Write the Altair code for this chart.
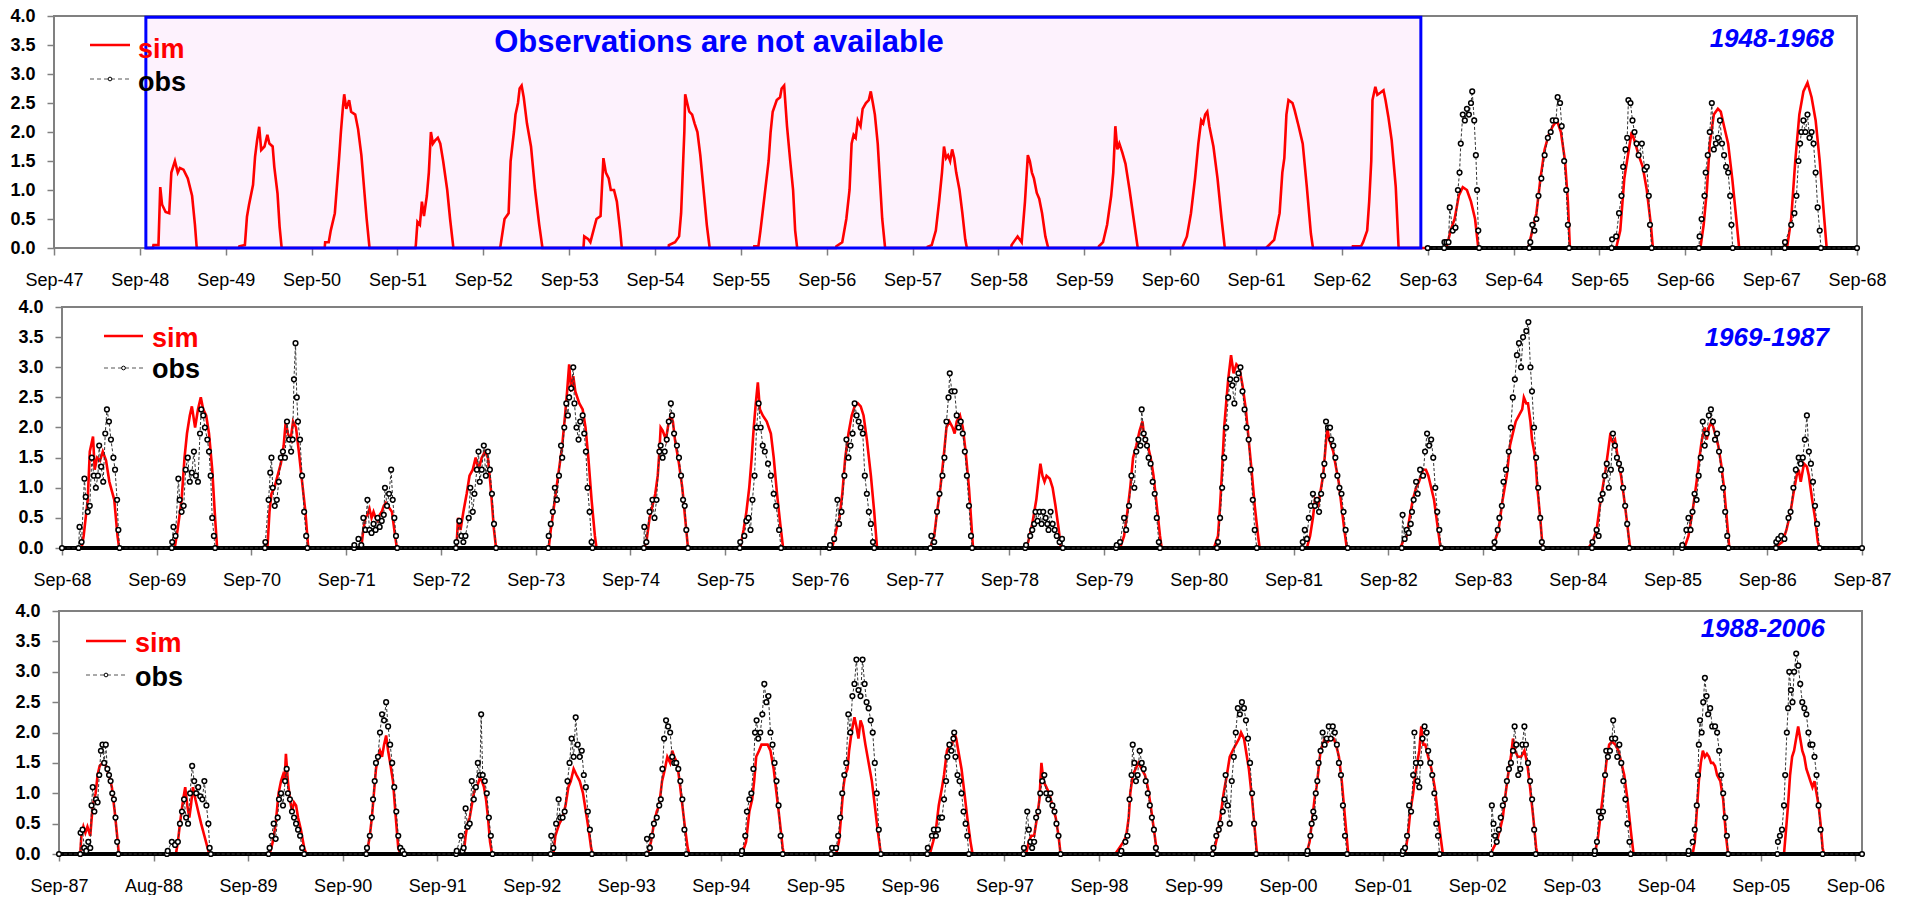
import altair as alt
import pandas as pd

FONT = "Liberation Sans"
RED = "#FF0000"
BLUE = "#0000FF"
GREY = "#808080"

LABELS_1 = ["Sep-47", "Sep-48", "Sep-49", "Sep-50", "Sep-51", "Sep-52", "Sep-53", "Sep-54",
            "Sep-55", "Sep-56", "Sep-57", "Sep-58", "Sep-59", "Sep-60", "Sep-61", "Sep-62",
            "Sep-63", "Sep-64", "Sep-65", "Sep-66", "Sep-67", "Sep-68"]
LABELS_2 = ["Sep-68", "Sep-69", "Sep-70", "Sep-71", "Sep-72", "Sep-73", "Sep-74", "Sep-75",
            "Sep-76", "Sep-77", "Sep-78", "Sep-79", "Sep-80", "Sep-81", "Sep-82", "Sep-83",
            "Sep-84", "Sep-85", "Sep-86", "Sep-87"]
LABELS_3 = ["Sep-87", "Aug-88", "Sep-89", "Sep-90", "Sep-91", "Sep-92", "Sep-93", "Sep-94",
            "Sep-95", "Sep-96", "Sep-97", "Sep-98", "Sep-99", "Sep-00", "Sep-01", "Sep-02",
            "Sep-03", "Sep-04", "Sep-05", "Sep-06"]

# season values: "month-after-September:value" pairs
SIM_1 = {
    1948: "1.8:0 1.9:.05 2.6:.05 2.85:1.05 3.1:.75 3.6:.62 4.1:.6 4.4:1.3 4.9:1.5 5.3:1.3 5.6:1.38 6.1:1.35 6.7:1.2 7.3:.9 7.7:.4 7.95:0",
    1949: "1.83:0 1.9:.03 2.68:.05 2.97:.54 3.25:.74 3.82:1.09 4.1:1.57 4.39:1.86 4.68:2.09 4.96:1.69 5.42:1.75 5.82:1.95 6.1:1.8 6.56:1.75 6.79:1.4 7.24:.94 7.53:.37 7.82:0",
    1950: "1.83:0 1.9:.1 2.4:.1 2.68:.3 3.25:.6 3.82:1.5 4.1:2.0 4.39:2.44 4.56:2.65 4.85:2.4 5.25:2.55 5.53:2.35 6.1:2.3 6.5:2.05 6.96:1.6 7.36:1.0 7.7:.5 8.1:0",
    1951: "2.5:0 2.57:.05 2.8:.45 3.14:.4 3.42:.8 3.71:.55 4.11:.9 4.39:1.3 4.68:2.0 4.96:1.8 5.25:1.85 5.65:1.9 5.99:1.8 6.39:1.5 6.96:1.0 7.36:.5 7.82:0",
    1952: "2.3:0 2.4:.03 2.97:.5 3.54:.6 3.82:1.5 4.28:2.0 4.5:2.3 4.85:2.5 5.08:2.75 5.36:2.8 5.65:2.6 6.1:2.15 6.67:1.75 7.24:1.0 7.82:.4 8.27:0",
    1953: "2.0:0 2.11:.2 2.68:.15 2.97:.1 3.82:.5 4.39:.55 4.79:1.55 5.13:1.3 5.53:1.2 5.82:1.0 6.27:1.0 6.67:.8 7.13:.3 7.36:0",
    1954: "1.9:0 1.94:.05 2.8:.1 3.37:.2 3.65:.6 3.94:1.5 4.1:2.0 4.22:2.65 4.5:2.5 4.79:2.35 5.19:2.3 5.53:2.15 5.93:2.0 6.33:1.6 6.79:1.0 7.24:.4 7.64:0",
    1955: "1.85:0 1.88:.03 2.45:.03 2.74:.3 3.31:.9 3.88:1.5 4.16:2.0 4.45:2.35 5.02:2.55 5.48:2.6 5.7:2.75 6.05:2.8 6.45:2.1 6.9:1.5 7.3:1.0 7.59:.3 7.87:0",
    1956: "1.3:0 1.35:.03 2.17:.1 2.74:.5 3.19:1.0 3.48:1.8 3.76:1.95 4.05:1.9 4.34:2.2 4.73:2.1 5.02:2.4 5.48:2.5 5.88:2.55 6.16:2.7 6.45:2.5 6.73:2.3 7.13:1.8 7.42:1.2 7.76:.5 8.16:0",
    1957: "2.05:0 2.11:.02 2.68:.05 3.25:.3 3.71:.8 4.11:1.3 4.39:1.75 4.68:1.55 4.96:1.6 5.25:1.5 5.53:1.7 5.82:1.55 6.1:1.3 6.56:1.0 6.96:.6 7.36:.15 7.59:0",
    1958: "1.8:0 1.83:.05 2.68:.2 3.25:.1 3.71:.8 4.11:1.6 4.39:1.5 4.68:1.3 4.96:1.2 5.36:.95 5.7:.85 6.1:.6 6.56:.2 6.96:0",
    1959: "2.0:0 2.05:.03 2.62:.1 3.19:.4 3.76:.9 4.05:1.3 4.34:2.1 4.62:1.7 4.9:1.8 5.31:1.65 5.76:1.45 6.33:1.0 6.9:.5 7.47:0",
    1960: "1.72:0 1.77:.03 2.34:.2 2.91:.6 3.48:1.2 3.94:1.8 4.34:2.2 4.62:2.15 4.9:2.3 5.19:2.35 5.48:2.1 6.05:1.75 6.62:1.2 7.19:.5 7.64:0",
    1961: "1.4:0 2.54:.14 3.3:.6 3.68:1.3 3.96:1.55 4.25:2.3 4.54:2.55 5.1:2.5 5.39:2.38 5.96:2.1 6.53:1.8 7.1:1.06 7.67:.25 7.96:0",
    1962: "1.5:0 1.54:.03 2.68:.03 2.97:.1 3.54:.3 3.82:.8 4.11:1.5 4.28:2.55 4.68:2.78 4.96:2.64 5.42:2.68 5.82:2.72 6.1:2.55 6.5:2.26 6.96:1.86 7.53:1.06 7.93:0",
    1963: "2.62:0 3.19:.3 3.76:.5 4.34:.9 4.9:1.05 5.48:1.0 6.05:.8 6.62:.5 7.07:0",
    1964: "2.05:0 2.62:.3 3.19:.6 3.76:1.2 4.34:1.7 4.9:1.95 5.48:2.1 6.05:2.2 6.62:2.0 7.19:1.5 7.59:.8 7.87:0",
    1965: "2.34:0 2.91:.3 3.48:1.2 4.05:1.65 4.51:2.0 4.9:1.85 5.48:1.6 6.05:1.4 6.62:1.0 7.19:.4 7.47:0",
    1966: "2.11:0 2.57:.4 3.02:1.0 3.42:1.8 3.99:2.3 4.56:2.4 4.96:2.35 5.42:2.1 5.99:1.8 6.56:1.2 7.13:.5 7.53:0",
    1967: "2.22:0 2.8:.5 3.37:1.5 3.94:2.3 4.51:2.7 5.08:2.85 5.65:2.6 6.22:2.2 6.79:1.5 7.36:.6 7.76:0",
}
OBS_1 = {
    1963: "2.3:0 2.34:.1 2.62:.1 2.91:.1 3.08:.7 3.5:.3 3.88:.35 4.22:1.0 4.45:1.3 4.62:1.8 4.9:2.3 5.19:2.2 5.48:2.4 5.76:2.3 6.05:2.5 6.22:2.7 6.5:2.2 6.73:1.6 6.9:1.0 7.07:.3 7.19:0",
    1964: "2.2:0 2.34:.1 2.62:.4 2.91:.3 3.19:.5 3.48:.9 3.88:1.2 4.34:1.6 4.79:1.9 5.19:2.0 5.48:2.2 5.93:2.2 6.16:2.6 6.5:2.5 6.73:2.1 7.07:1.5 7.36:1.0 7.59:.4 7.76:0",
    1965: "1.7:0 1.77:.15 2.34:.2 2.74:.6 3.08:.9 3.31:1.4 3.65:1.7 3.88:1.9 4.05:2.55 4.34:2.5 4.62:2.2 4.9:2.0 5.19:1.8 5.48:1.6 5.93:1.8 6.33:1.35 6.62:1.4 6.9:.9 7.07:.4 7.3:0",
    1966: "1.9:0 2.0:.2 2.28:.5 2.68:.9 2.85:1.3 3.14:1.6 3.42:2.0 3.71:2.5 3.99:1.7 4.28:1.8 4.56:1.9 4.85:2.2 5.13:1.8 5.42:1.6 5.7:1.4 5.99:1.3 6.27:.9 6.45:.4 6.62:0",
    1967: "1.9:0 1.94:.1 2.8:.4 3.25:.6 3.54:.9 3.82:1.5 4.05:1.8 4.22:2.0 4.51:2.2 4.79:2.0 5.08:2.3 5.36:1.9 5.65:2.0 5.93:1.8 6.22:1.3 6.5:.7 6.79:.3 6.96:0",
}
SIM_2 = {
    1968: "2.48:0 2.74:.2 3.0:.5 3.26:.8 3.52:1.6 3.93:1.85 4.14:1.3 4.45:1.5 4.81:1.45 5.17:1.6 5.58:1.45 6.0:1.1 6.62:.8 7.03:.2 7.24:0",
    1969: "2.28:0 2.64:.3 3.15:.8 3.52:1.5 3.83:1.9 4.19:2.2 4.45:2.35 4.86:2.0 5.22:2.3 5.58:2.5 5.89:2.3 6.26:2.2 6.62:1.9 7.03:1.3 7.39:.5 7.65:0",
    1970: "2.02:0 2.28:.6 2.53:.9 2.9:1.0 3.31:1.2 3.72:1.4 4.08:1.7 4.34:2.1 4.6:1.9 4.96:1.8 5.27:2.1 5.64:2.0 6.0:1.6 6.41:1.1 6.83:.6 7.19:0",
    1971: "1.9:0 2.17:.3 2.43:.5 2.69:.55 2.95:.65 3.21:.5 3.46:.6 3.72:.5 3.98:.45 4.24:.55 4.5:.6 4.76:.7 5.02:.75 5.27:.7 5.79:.6 6.2:.2 6.41:0",
    1972: "1.96:0 2.17:.5 2.48:.3 2.84:.6 3.26:.9 3.62:1.2 4.03:1.3 4.4:1.5 4.76:1.3 5.17:1.5 5.58:1.6 5.95:1.5 6.31:1.0 6.72:.3 6.98:0",
    1973: "1.65:0 1.91:.3 2.43:.8 2.95:1.3 3.36:1.7 3.72:2.2 3.98:2.6 4.24:3.05 4.5:2.6 4.76:2.85 5.02:2.6 5.27:2.5 5.53:2.4 5.95:2.3 6.31:2.0 6.67:1.5 7.08:.8 7.5:.2 7.7:0",
    1974: "1.76:0 2.02:.1 2.43:.5 2.79:.7 3.15:.9 3.46:1.2 3.67:1.6 3.83:2.0 4.08:1.95 4.5:1.8 4.86:2.1 5.12:2.2 5.38:2.1 5.64:1.8 6.15:1.4 6.57:1.0 6.93:.5 7.29:0",
    1975: "1.91:0 2.33:.3 2.69:.6 3.05:1.0 3.36:1.5 3.62:2.0 3.88:2.4 4.14:2.75 4.4:2.3 4.76:2.2 5.27:2.1 5.79:1.9 6.15:1.5 6.57:.9 6.98:.4 7.34:0",
    1976: "1.55:0 2.07:.3 2.48:.5 2.84:.9 3.21:1.5 3.62:1.9 4.03:2.2 4.4:2.35 4.81:2.4 5.17:2.35 5.53:2.2 5.95:1.8 6.46:1.2 6.88:.6 7.24:0",
    1977: "1.96:0 2.48:.2 2.84:.6 3.26:1.0 3.67:1.5 4.03:2.0 4.4:2.1 4.81:2.0 5.07:1.9 5.33:2.1 5.74:2.2 6.1:2.0 6.46:1.6 6.88:1.0 7.19:.4 7.39:0",
    1978: "1.86:0 2.38:.1 2.9:.4 3.41:.8 3.67:1.1 3.93:1.4 4.19:1.2 4.45:1.1 4.71:1.2 5.12:1.15 5.48:1.0 5.84:.7 6.26:.3 6.52:0",
    1979: "2.02:0 2.53:.2 2.95:.6 3.31:1.0 3.67:1.5 4.08:1.7 4.5:1.95 4.86:2.1 5.12:1.8 5.53:1.7 5.89:1.5 6.26:1.2 6.67:.7 7.08:.2 7.29:0",
    1980: "1.91:0 2.43:.2 2.69:.7 2.95:1.3 3.21:2.0 3.46:2.4 3.72:2.8 4.08:3.2 4.4:2.9 4.76:3.05 5.12:3.0 5.53:2.7 5.95:2.3 6.31:1.8 6.67:1.3 7.08:.7 7.5:.2 7.7:0",
    1981: "1.68:0 2.09:.2 2.45:.5 2.71:.8 3.12:.7 3.49:1.0 3.74:1.2 4.0:1.6 4.26:2.0 4.52:1.8 4.78:1.7 5.03:1.6 5.29:1.4 5.71:1.1 6.07:.7 6.43:.3 6.74:0",
    1982: "1.55:0 1.96:.15 2.33:.2 2.69:.5 3.1:.8 3.52:1.0 3.88:1.1 4.4:1.3 4.76:1.3 5.07:1.2 5.43:1.0 5.79:.8 6.2:.4 6.62:0",
    1983: "1.4:0 1.45:.1 1.96:.3 2.48:.8 3.0:1.2 3.41:1.7 3.77:1.9 4.14:2.1 4.55:2.2 4.96:2.3 5.17:2.5 5.48:2.4 5.69:2.4 6.0:2.1 6.2:1.8 6.62:1.5 6.88:1.0 7.24:.5 7.55:0",
    1984: "1.34:0 1.86:.1 2.38:.3 2.79:.7 3.15:1.0 3.52:1.3 3.83:1.6 4.08:1.85 4.45:1.75 4.71:1.8 5.07:1.5 5.48:1.2 5.89:.8 6.26:.4 6.62:0",
    1985: "1.5:0 2.02:.2 2.53:.6 3.05:1.1 3.41:1.5 3.72:1.8 4.08:2.0 4.34:1.8 4.6:2.0 4.96:2.1 5.38:1.9 5.79:1.7 6.15:1.4 6.52:1.0 6.93:.4 7.19:0",
    1986: "0.6:0 1.4:.05 1.91:.1 2.43:.3 2.95:.6 3.31:.9 3.72:1.2 3.98:1.3 4.24:1.1 4.65:1.4 5.02:1.35 5.27:1.2 5.69:.8 6.05:.5 6.41:.1 6.62:0",
}
OBS_2 = {
    1968: "2.1:0 2.22:.35 2.48:.1 2.84:1.15 3.0:.85 3.26:.6 3.52:.7 3.77:1.5 4.03:1.2 4.29:1.0 4.55:1.2 4.71:1.7 4.96:1.35 5.22:1.1 5.48:1.9 5.69:2.3 5.95:2.1 6.2:1.8 6.51:1.5 6.72:1.3 6.98:.8 7.14:.3 7.29:0",
    1969: "1.9:0 1.96:.1 2.12:.35 2.38:.2 2.74:1.15 2.9:.8 3.15:.6 3.41:.7 3.67:1.3 3.93:1.5 4.19:1.1 4.45:1.25 4.71:1.6 4.96:1.2 5.22:1.1 5.48:1.9 5.64:2.3 5.89:2.2 6.1:2.0 6.41:1.8 6.62:1.6 6.83:1.2 7.03:.5 7.24:.2 7.39:0",
    1970: "1.7:0 1.76:.1 2.17:.8 2.38:1.25 2.53:1.5 2.69:1.0 2.95:.7 3.21:.8 3.46:1.1 3.72:1.5 3.98:1.6 4.24:1.5 4.5:2.1 4.76:1.8 5.02:1.6 5.22:1.8 5.38:2.8 5.58:3.4 5.74:2.5 5.89:2.1 6.15:1.8 6.41:1.2 6.67:.6 6.93:.2 7.08:0",
    1971: "1.0:0 1.03:.05 1.55:.15 1.91:.05 2.17:.5 2.43:.3 2.69:.8 2.95:.3 3.21:.25 3.46:.4 3.72:.3 3.98:.5 4.24:.35 4.5:.45 4.76:.55 4.91:1.0 5.17:.7 5.43:.9 5.69:1.3 5.89:.8 6.1:.5 6.31:.2 6.46:0",
    1972: "1.9:0 1.96:.1 2.33:.45 2.59:.2 2.84:.1 3.1:.2 3.52:.5 3.72:1.0 4.03:.6 4.24:.9 4.55:1.3 4.76:1.6 4.91:1.1 5.17:1.3 5.43:1.7 5.69:1.2 5.95:1.6 6.2:1.3 6.46:.9 6.72:.4 6.98:0",
    1973: "1.6:0 1.65:.2 1.91:.4 2.17:.6 2.43:1.0 2.69:.8 2.95:1.2 3.21:1.7 3.36:1.5 3.62:2.0 3.88:2.4 4.08:2.2 4.24:2.5 4.5:2.65 4.76:3.0 4.91:2.4 5.17:2.0 5.43:1.8 5.64:2.1 5.95:2.2 6.15:1.9 6.36:1.6 6.57:1.0 6.83:.6 7.08:.1 7.19:0",
    1974: "1.7:0 1.76:.35 2.02:.1 2.43:.6 2.79:.8 3.05:.5 3.31:.8 3.67:1.6 3.83:1.7 4.08:1.5 4.34:1.6 4.6:1.8 4.86:2.1 5.12:2.4 5.27:2.2 5.53:1.9 5.89:1.7 6.15:1.5 6.41:1.2 6.67:.8 6.88:.7 7.08:.3 7.29:0",
    1975: "1.85:0 1.91:.1 2.43:.2 2.69:.45 2.95:.5 3.21:.3 3.46:.8 3.72:1.2 3.98:2.0 4.24:2.4 4.5:2.0 4.76:1.7 5.02:1.6 5.43:1.4 5.79:1.2 6.15:.9 6.46:.7 6.83:.3 7.08:0",
    1976: "1.2:0 1.29:.05 1.81:.15 2.22:.8 2.43:.4 2.74:.6 3.1:1.2 3.36:1.8 3.62:1.5 3.88:1.7 4.14:1.9 4.4:2.4 4.65:2.2 4.91:2.1 5.17:2.0 5.43:1.9 5.69:1.2 5.95:.9 6.2:.6 6.46:.4 6.72:.1 6.88:0",
    1977: "2.0:0 2.12:.2 2.48:.1 2.84:.6 3.15:.9 3.52:1.2 3.77:1.5 4.03:2.1 4.29:2.5 4.45:2.9 4.71:2.6 5.07:2.6 5.33:2.2 5.58:2.0 5.84:2.1 6.1:1.9 6.36:1.6 6.62:1.2 6.88:.7 7.14:.2 7.29:0",
    1978: "2.0:0 2.12:.05 2.64:.2 2.9:.3 3.15:.4 3.31:.6 3.57:.45 3.83:.6 4.08:.4 4.29:.6 4.6:.5 4.81:.4 4.96:.3 5.22:.6 5.48:.4 5.74:.3 6.0:.2 6.36:.1 6.67:.15 6.77:0",
    1979: "1.5:0 1.6:.05 2.02:.1 2.53:.5 2.79:.3 3.15:.7 3.46:1.2 3.83:1.0 4.08:1.6 4.34:1.8 4.6:1.7 4.76:2.3 5.02:1.9 5.22:1.8 5.43:1.7 5.64:1.5 5.89:1.4 6.15:1.1 6.41:.9 6.67:.5 6.93:.1 7.08:0",
    1980: "2.3:0 2.43:.1 2.69:.5 2.95:1.0 3.21:1.5 3.46:2.0 3.72:2.5 3.98:2.8 4.24:2.7 4.5:2.4 4.76:2.8 5.02:2.9 5.27:3.0 5.53:2.6 5.79:2.3 6.05:2.0 6.31:1.8 6.57:1.3 6.83:.8 7.08:.3 7.34:0",
    1981: "1.1:0 1.16:.1 1.42:.3 1.68:.15 1.93:.5 2.19:.7 2.45:.9 2.71:.7 2.97:.8 3.23:.6 3.49:.9 3.74:1.2 3.9:1.4 4.11:2.1 4.36:2.0 4.62:2.0 4.78:1.8 5.03:1.7 5.29:1.5 5.55:1.2 5.81:1.0 6.07:.9 6.33:.6 6.59:.3 6.85:0",
    1982: "1.7:0 1.81:.55 2.07:.15 2.33:.3 2.59:.25 2.84:.4 3.0:.6 3.21:.8 3.52:1.1 3.72:.9 4.03:1.3 4.4:1.2 4.65:1.6 4.91:1.9 5.17:1.7 5.43:1.8 5.69:1.5 5.95:1.0 6.2:.6 6.46:.3 6.72:0",
    1983: "1.4:0 1.45:.1 1.86:.3 2.07:.5 2.38:.7 2.59:1.1 2.9:1.3 3.26:1.6 3.52:2.0 3.77:2.5 4.03:2.8 4.29:3.2 4.55:3.4 4.81:3.0 5.07:3.5 5.48:3.6 5.74:3.75 6.0:3.0 6.2:2.6 6.46:2.0 6.72:1.5 6.98:1.0 7.24:.5 7.45:.1 7.6:0",
    1984: "1.8:0 1.86:.1 2.38:.3 2.64:.2 2.9:.8 3.15:.9 3.41:1.2 3.67:1.4 3.93:1.0 4.19:1.3 4.45:1.9 4.71:1.7 4.96:1.5 5.22:1.4 5.48:1.3 5.74:1.0 6.0:.7 6.26:.4 6.52:0",
    1985: "1.2:0 1.24:.05 1.76:.3 2.02:.5 2.28:.3 2.53:.6 2.79:.9 3.05:.8 3.31:1.2 3.57:1.5 3.83:2.1 4.08:1.7 4.34:1.9 4.6:2.2 4.86:2.3 5.12:2.1 5.38:1.8 5.64:1.9 5.89:1.6 6.15:1.3 6.41:1.0 6.67:.6 6.93:.2 7.08:0",
    1986: "1.1:0 1.14:.1 1.4:.15 1.76:.2 2.17:.15 2.69:.5 2.95:.6 3.31:1.0 3.62:1.3 3.98:1.5 4.24:1.4 4.5:1.5 4.76:1.8 5.02:2.2 5.27:1.6 5.53:1.4 5.79:1.1 6.05:.7 6.31:.4 6.62:0",
}
SIM_3 = {
    1987: "2.7:0 2.84:.3 3.1:.45 3.35:.35 3.61:.45 3.97:.3 4.28:.8 4.65:1.0 4.9:1.3 5.16:1.45 5.52:1.5 5.83:1.5 6.04:1.4 6.35:1.3 6.71:1.1 7.07:.7 7.38:.3 7.59:0",
    1988: "2.84:0 3.09:.2 3.35:.5 3.76:.9 4.02:1.1 4.28:.8 4.54:.6 4.75:.8 5.0:1.1 5.31:.9 5.67:.7 6.04:.5 6.45:.3 6.86:.1 7.07:0",
    1989: "2.73:0 3.14:.2 3.5:.5 3.87:1.0 4.18:1.2 4.43:1.3 4.64:1.2 4.8:1.65 5.05:1.2 5.31:.9 5.57:.7 5.83:.85 6.09:.8 6.34:.6 6.7:.4 7.12:.1 7.38:0",
    1990: "2.94:0 3.19:.1 3.45:.3 3.71:.6 3.97:1.0 4.23:1.4 4.48:1.6 4.74:1.7 5.0:1.6 5.26:1.8 5.52:1.95 5.77:1.7 6.03:1.5 6.39:1.2 6.81:.5 7.06:.1 7.32:0",
    1991: "3.36:0 3.61:.3 3.87:.5 4.13:.6 4.39:.8 4.65:1.0 4.91:1.1 5.16:1.15 5.42:1.25 5.68:1.2 5.94:1.1 6.2:.9 6.45:.6 6.71:.2 6.97:0",
    1992: "2.74:0 3.0:.3 3.25:.4 3.51:.5 3.92:.6 4.29:.8 4.65:1.1 4.96:1.2 5.32:1.4 5.68:1.3 6.09:1.2 6.51:1.0 6.87:.7 7.23:.4 7.54:.1 7.74:0",
    1993: "2.73:0 3.14:.2 3.51:.5 3.87:.7 4.18:.8 4.54:1.2 4.9:1.4 5.21:1.6 5.57:1.5 5.83:1.7 6.09:1.6 6.45:1.5 6.76:1.2 7.12:.8 7.48:.4 7.79:.1 8.0:0",
    1994: "2.69:0 3.2:.2 3.62:.7 3.98:.9 4.23:1.2 4.49:1.6 4.85:1.7 5.16:1.8 5.52:1.8 5.94:1.8 6.3:1.7 6.71:1.4 7.07:1.0 7.43:.6 7.85:.1 8.0:0",
    1995: "2.63:0 2.99:.2 3.25:.6 3.56:1.1 3.77:1.3 4.08:1.4 4.28:1.7 4.59:2.0 4.96:2.25 5.21:2.1 5.47:1.9 5.73:2.2 5.99:2.1 6.35:1.8 6.76:1.5 7.17:1.2 7.54:.8 7.9:.4 8.31:0",
    1996: "2.53:0 2.94:.2 3.3:.4 3.66:.8 4.08:1.1 4.33:1.3 4.7:1.7 5.01:1.8 5.37:1.8 5.62:2.0 5.88:1.9 6.14:1.7 6.55:1.4 6.92:1.0 7.28:.6 7.69:.2 7.95:0",
    1997: "2.73:0 3.09:.2 3.4:.3 3.77:.3 4.13:.6 4.44:.9 4.69:1.5 4.95:1.2 5.31:1.1 5.67:1.0 6.09:.8 6.5:.6 6.86:.3 7.12:0",
    1998: "2.06:0 2.58:.1 3.09:.2 3.46:.3 3.77:.6 3.97:1.0 4.28:1.3 4.64:1.4 5.0:1.5 5.42:1.4 5.83:1.3 6.19:1.1 6.55:.8 6.97:.4 7.38:0",
    1999: "2.27:0 2.68:.1 3.04:.3 3.4:.6 3.82:1.0 4.23:1.3 4.59:1.6 4.95:1.7 5.36:1.8 5.78:1.9 6.03:2.0 6.4:1.9 6.65:1.7 7.02:1.4 7.43:.9 7.84:.3 8.05:0",
    2000: "2.32:0 2.73:.2 3.09:.6 3.35:.9 3.61:1.1 3.87:1.4 4.12:1.7 4.38:1.8 4.64:1.9 5.05:1.85 5.42:1.9 5.78:1.9 6.09:1.8 6.45:1.6 6.81:1.2 7.22:.6 7.63:0",
    2001: "2.84:0 3.2:.3 3.51:.7 3.87:1.0 4.13:1.3 4.39:1.5 4.65:1.7 4.9:2.1 5.16:1.8 5.42:1.8 5.78:1.6 6.19:1.4 6.61:1.1 6.97:.7 7.33:.3 7.64:0",
    2002: "1.7:0 2.07:.1 2.48:.2 2.89:.4 3.25:.6 3.61:1.0 3.92:1.3 4.28:1.6 4.54:1.9 4.8:1.7 5.16:1.6 5.58:1.6 5.99:1.7 6.35:1.5 6.71:1.1 7.12:.6 7.48:.1 7.64:0",
    2003: "2.94:0 3.35:.3 3.71:.7 4.08:1.1 4.38:1.5 4.75:1.8 5.11:1.85 5.52:1.8 5.93:1.7 6.29:1.5 6.66:1.3 7.07:.9 7.48:.4 7.84:0",
    2004: "3.35:0 3.61:.2 3.87:.7 4.13:1.2 4.38:1.5 4.64:1.7 4.9:1.6 5.16:1.65 5.42:1.6 5.68:1.5 5.93:1.5 6.19:1.45 6.45:1.3 6.86:1.2 7.22:.9 7.58:.3 7.84:0",
    2005: "2.94:0 3.2:.4 3.45:.8 3.71:1.3 3.97:1.6 4.22:1.7 4.48:1.9 4.74:2.1 5.0:1.9 5.26:1.7 5.52:1.6 5.78:1.4 6.04:1.3 6.29:1.2 6.55:1.1 6.81:1.2 7.07:1.0 7.33:.8 7.58:.5 7.84:.1 8.0:0",
}
OBS_3 = {
    1987: "2.7:0 2.74:.35 2.99:.4 3.2:.1 3.46:.05 3.72:.2 3.97:.1 4.13:.8 4.28:1.1 4.49:.7 4.7:.9 4.9:.85 5.11:1.3 5.32:1.7 5.52:1.8 5.73:1.5 5.94:1.8 6.14:1.4 6.35:1.3 6.55:1.2 6.76:1.0 6.97:.9 7.17:.6 7.38:.2 7.54:0",
    1988: "1.7:0 1.8:.05 2.32:.2 2.73:.15 3.09:.2 3.35:.5 3.61:.7 3.87:.9 4.13:.6 4.38:.5 4.64:1.0 4.9:1.45 5.16:1.2 5.42:1.0 5.67:1.1 5.93:.95 6.19:.9 6.45:1.2 6.71:.8 6.96:.5 7.12:.1 7.27:0",
    1989: "2.6:0 2.73:.1 2.99:.3 3.25:.5 3.5:.25 3.76:.6 3.92:.9 4.18:1.0 4.43:.8 4.69:1.2 4.9:1.4 5.05:1.0 5.31:.9 5.57:.7 5.83:.6 6.09:.5 6.34:.4 6.6:.3 6.86:.1 7.12:0",
    1990: "3.0:0 3.09:.1 3.45:.3 3.71:.6 3.86:.9 4.07:1.2 4.23:1.5 4.48:1.6 4.74:2.0 5.0:2.3 5.26:2.2 5.52:2.5 5.77:2.1 6.03:1.8 6.29:1.5 6.55:1.1 6.81:.7 7.06:.3 7.32:.1 7.58:.05 7.84:0",
    1991: "2.4:0 2.48:.05 3.0:.3 3.2:.05 3.36:.1 3.61:.75 3.87:.45 4.13:.5 4.39:1.2 4.65:.9 4.91:1.1 5.16:1.5 5.42:1.3 5.58:2.3 5.78:1.3 6.04:1.2 6.3:1.0 6.56:.6 6.81:.3 7.02:0",
    1992: "2.4:0 2.48:.3 2.74:.1 3.1:.5 3.41:.9 3.61:.6 3.92:.6 4.18:.7 4.54:1.2 4.8:1.5 5.06:1.9 5.32:1.6 5.58:2.25 5.83:1.8 6.09:1.6 6.35:1.7 6.61:1.3 6.87:1.1 7.12:.7 7.38:.4 7.64:0",
    1993: "2.6:0 2.63:.25 2.99:.1 3.25:.3 3.51:.5 3.87:.6 4.18:.8 4.38:.9 4.59:1.4 4.8:1.9 5.05:2.2 5.31:2.1 5.57:2.0 5.83:1.6 6.09:1.5 6.34:1.5 6.6:1.4 6.86:1.2 7.12:.9 7.38:.4 7.63:0",
    1994: "2.6:0 2.69:.05 3.1:.3 3.31:.7 3.62:.9 3.87:1.0 4.13:1.4 4.34:2.0 4.54:2.2 4.75:1.9 5.01:2.0 5.27:2.3 5.52:2.8 5.78:2.5 6.04:2.6 6.3:2.0 6.56:1.8 6.82:1.5 7.07:1.2 7.33:.8 7.59:.3 7.85:0",
    1995: "2.0:0 2.12:.1 2.63:.1 2.89:.3 3.15:.6 3.41:1.0 3.67:1.3 3.92:1.5 4.18:2.3 4.44:2.0 4.7:2.6 4.96:2.8 5.21:3.2 5.47:2.7 5.73:2.6 5.99:3.2 6.25:2.8 6.5:2.5 6.76:2.4 7.02:2.2 7.28:2.0 7.54:1.5 7.79:1.0 8.05:.4 8.31:0",
    1996: "2.2:0 2.27:.1 2.79:.3 3.04:.4 3.3:.3 3.56:.4 3.82:.6 4.08:.6 4.33:.9 4.59:1.2 4.75:1.6 5.01:1.8 5.26:1.7 5.52:1.9 5.62:2.0 5.78:1.6 6.04:1.3 6.3:1.2 6.55:1.0 6.81:.7 7.07:.5 7.28:.3 7.48:0",
    1997: "2.4:0 2.47:.1 2.89:.7 3.09:.4 3.3:.2 3.51:.1 3.77:.2 4.02:.6 4.28:.7 4.54:1.0 4.8:1.2 5.06:1.3 5.31:1.0 5.57:.9 5.83:1.0 6.09:.8 6.35:.7 6.6:.5 6.86:.3 7.12:0",
    1998: "2.7:0 2.84:.05 3.35:.2 3.61:.3 3.87:.9 4.13:1.3 4.28:1.8 4.49:1.5 4.69:1.2 4.9:1.3 5.16:1.7 5.42:1.5 5.67:1.4 5.93:1.2 6.19:1.0 6.45:.8 6.71:.6 6.97:.4 7.22:.1 7.38:0",
    1999: "2.4:0 2.52:.1 2.89:.3 3.2:.4 3.4:.5 3.71:.7 3.92:.9 4.07:1.3 4.33:.8 4.59:.5 4.85:1.2 5.11:1.6 5.36:2.0 5.62:2.4 5.88:2.3 6.14:2.5 6.4:2.4 6.65:2.2 6.91:1.9 7.17:1.5 7.43:1.0 7.69:.5 7.94:0",
    2000: "2.4:0 2.47:.05 2.83:.3 2.99:.5 3.2:.7 3.35:.6 3.51:1.0 3.71:1.2 3.87:1.5 4.12:1.7 4.38:2.0 4.64:1.8 4.9:1.9 5.16:2.1 5.42:1.9 5.67:2.1 5.93:2.0 6.19:1.8 6.45:1.5 6.71:1.3 6.96:.8 7.22:.3 7.48:0",
    2001: "2.5:0 2.58:.05 2.84:.1 3.1:.3 3.36:.8 3.61:.7 3.87:1.3 4.03:2.0 4.23:1.5 4.44:1.2 4.65:1.1 4.8:1.5 5.06:1.9 5.32:2.1 5.58:2.0 5.78:1.7 6.04:1.5 6.3:1.3 6.56:1.0 6.81:.5 7.02:.3 7.23:0",
    2002: "1.8:0 1.86:.8 2.07:.5 2.27:.3 2.48:.2 2.74:.4 2.99:.6 3.25:.8 3.51:.9 3.77:1.2 4.03:1.4 4.28:1.5 4.54:1.7 4.75:2.1 4.96:1.8 5.21:1.3 5.47:1.4 5.73:1.8 5.99:2.1 6.19:1.8 6.45:1.5 6.71:1.2 6.97:.9 7.23:.4 7.43:0",
    2003: "2.9:0 2.94:.05 3.2:.2 3.46:.7 3.71:.6 3.97:.7 4.23:1.3 4.38:1.7 4.59:1.6 4.85:1.7 5.11:1.9 5.26:2.2 5.52:1.9 5.78:1.6 6.04:1.8 6.29:1.5 6.55:1.2 6.81:.9 7.07:.5 7.33:.2 7.48:0",
    2004: "2.8:0 2.84:.05 3.35:.2 3.61:.4 3.87:.8 4.02:1.3 4.13:1.8 4.28:2.2 4.49:2.0 4.69:2.5 4.9:2.9 5.11:2.6 5.31:2.3 5.57:2.4 5.83:2.1 6.19:2.1 6.45:2.0 6.71:1.7 6.97:1.3 7.22:1.0 7.48:.6 7.69:.3 7.84:0",
    2005: "2.1:0 2.17:.2 2.42:.3 2.68:.4 2.94:.8 3.09:1.3 3.3:2.0 3.46:2.4 3.61:3.0 3.82:2.7 4.02:2.5 4.23:3.0 4.49:3.3 4.75:3.1 5.0:2.8 5.26:2.5 5.52:2.4 5.78:2.3 6.04:2.0 6.29:1.8 6.55:1.8 6.81:1.6 7.07:1.3 7.33:.8 7.58:.4 7.84:0",
}

# period without observations (years after Sep-47) and observation record spans
NO_OBS_1 = [1.07, 15.92]
OBS_SPAN_1 = [16.0, 21.0]
OBS_SPAN_2 = [0.0, 19.0]
OBS_SPAN_3 = [0.0, 19.07]


def to_df(d, base, start, end):
    rows = [(start, 0.0)]
    for yr, s in d.items():
        for tok in s.split():
            m, v = tok.split(":")
            rows.append((yr - base + float(m) / 12.0, float(v)))
    rows.append((end, 0.0))
    return pd.DataFrame(rows, columns=["x", "v"])


def one(text):
    return pd.DataFrame({"t": [text]})


def txt(text, x, y, **kw):
    return alt.Chart(one(text)).mark_text(font=FONT, baseline="alphabetic", **kw).encode(
        text="t:N", x=alt.value(x), y=alt.value(y))


def panel(sim_df, obs_df, span, labels, xdom, ydom, w, h, yoff, xoff, period, pxy, lg, box=None):
    xs = alt.Scale(domain=xdom, nice=False, zero=False)
    ys = alt.Scale(domain=ydom, nice=False, zero=False)
    expr = "[" + ",".join("'%s'" % l for l in labels) + "][round(datum.value)]"
    xaxis = alt.Axis(values=list(range(len(labels))), labelExpr=expr, title=None, grid=False,
                     domain=False, offset=xoff,
                     tickSize=7, tickColor=GREY, tickWidth=1.5,
                     labelFont=FONT, labelFontSize=18, labelColor="black", labelPadding=16,
                     labelFlush=False, labelOverlap=False)
    yaxis = alt.Axis(values=[i * 0.5 for i in range(9)], format=".1f", title=None, grid=False,
                     domain=False, offset=yoff,
                     tickSize=7, tickColor=GREY, tickWidth=1.5,
                     labelFont=FONT, labelFontSize=18, labelFontWeight="bold", labelColor="black",
                     labelPadding=12, minExtent=54, maxExtent=54)
    X = alt.X("x:Q", scale=xs, axis=xaxis)
    Y = alt.Y("v:Q", scale=ys, axis=yaxis)
    xmax = xdom[1]
    layers = []
    if box is not None:
        bdf = pd.DataFrame({"x": [box[0]], "x2": [box[1]], "v": [0.0], "v2": [3.98]})
        layers.append(alt.Chart(bdf).mark_rect(fill="#FDF2FD").encode(x=X, x2="x2:Q", y=Y, y2="v2:Q"))
    # plot frame (0..end of record, 0..4)
    fdf = pd.DataFrame({"x": [0.0], "x2": [xmax], "v": [0.0], "v2": [4.0]})
    layers.append(alt.Chart(fdf).mark_rect(fillOpacity=0, stroke=GREY, strokeWidth=2).encode(
        x=X, x2="x2:Q", y=Y, y2="v2:Q"))
    layers.append(alt.Chart(sim_df).mark_line(color=RED, strokeWidth=2.6).encode(x=X, y=Y))
    sdf = pd.DataFrame({"x": [span[0]], "x2": [span[1]], "v": [0.0]})
    layers.append(alt.Chart(sdf).mark_rule(color="black", strokeWidth=4).encode(x=X, x2="x2:Q", y=Y))
    layers.append(alt.Chart(obs_df).mark_line(color="#333333", strokeWidth=1, strokeDash=[3, 2]).encode(x=X, y=Y))
    layers.append(alt.Chart(obs_df).mark_point(shape="circle", size=22, fill="white", stroke="black",
                                               strokeWidth=1.5, opacity=1, fillOpacity=1).encode(x=X, y=Y))
    if box is not None:
        bdf = pd.DataFrame({"x": [box[0]], "x2": [box[1]], "v": [0.0], "v2": [3.98]})
        layers.append(alt.Chart(bdf).mark_rect(fillOpacity=0, stroke=BLUE, strokeWidth=3).encode(
            x=X, x2="x2:Q", y=Y, y2="v2:Q"))
        layers.append(txt("Observations are not available", 665, 36, fontSize=31, fontWeight="bold",
                          color=BLUE, align="center"))
    # legend
    lx0, lx1, ly1, ty1, ly2, ty2, tx = lg
    layers.append(alt.Chart(one("a")).mark_rule(color=RED, strokeWidth=2.5).encode(
        x=alt.value(lx0), x2=alt.value(lx1), y=alt.value(ly1)))
    layers.append(alt.Chart(one("b")).mark_rule(color="#555555", strokeWidth=1, strokeDash=[4, 3]).encode(
        x=alt.value(lx0), x2=alt.value(lx1), y=alt.value(ly2)))
    layers.append(alt.Chart(one("c")).mark_point(shape="circle", size=14, fill="white", stroke="black",
                                                strokeWidth=1, opacity=1, fillOpacity=1).encode(
        x=alt.value((lx0 + lx1) / 2), y=alt.value(ly2)))
    layers.append(txt("sim", tx, ty1, fontSize=27, fontWeight="bold", color=RED, align="left"))
    layers.append(txt("obs", tx, ty2, fontSize=27, fontWeight="bold", color="black", align="left"))
    layers.append(txt(period, pxy[0], pxy[1], fontSize=26, fontWeight="bold", fontStyle="italic",
                      color=BLUE, align="right"))
    return alt.layer(*layers).properties(width=w, height=h)


sim1 = to_df(SIM_1, 1947, NO_OBS_1[0], 21.0)
obs1 = to_df(OBS_1, 1947, OBS_SPAN_1[0], OBS_SPAN_1[1])
sim2 = to_df(SIM_2, 1968, 0.0, 19.0)
obs2 = to_df(OBS_2, 1968, OBS_SPAN_2[0], OBS_SPAN_2[1])
sim3 = to_df(SIM_3, 1987, 0.0, 19.07)
obs3 = to_df(OBS_3, 1987, OBS_SPAN_3[0], OBS_SPAN_3[1])

# panel 1: plot 54..1857 ; panel 2: axis at 62, plot to 1862 ; panel 3: axis at 59, plot to 1862
p1 = panel(sim1, obs1, OBS_SPAN_1, LABELS_1, [0.0, 21.0], [0.0, 4.0], 1803, 232, 0, 0,
           "1948-1968", (1780, 31), (36, 76, 29, 42, 63, 75, 84), box=NO_OBS_1)
p2 = panel(sim2, obs2, OBS_SPAN_2, LABELS_2, [-8 * 19.0 / 1800, 19.0], [-4 * 4.0 / 241, 4.0], 1808, 245, -8, -4,
           "1969-1987", (1775, 39), (50, 89, 29, 40, 61, 71, 98))
p3 = panel(sim3, obs3, OBS_SPAN_3, LABELS_3, [-5 * 19.07 / 1803, 19.07], [0.0, 4.0], 1808, 243, -5, 0,
           "1988-2006", (1771, 26), (32, 72, 30, 41, 64, 75, 81))

chart = alt.vconcat(p1, p2, p3, spacing=59, bounds="flush").properties(
    padding={"left": 0, "top": 7, "right": 0, "bottom": 0},
    background="white",
).configure_view(strokeWidth=0)

chart.save("out.html", embed_options={"renderer": "svg", "actions": False})
